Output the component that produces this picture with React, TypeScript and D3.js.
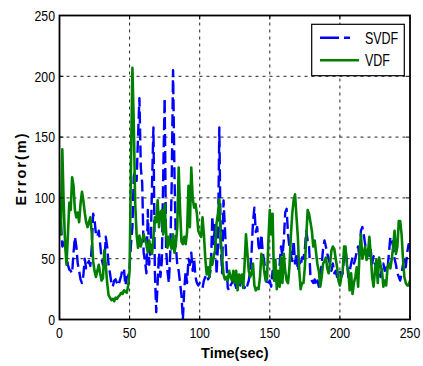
import React from "react";
import * as d3 from "d3";

const TIME: number[] = d3.range(0, 251);

const SVDF: number[] = [
  93, 80, 60, 62, 65, 52, 45, 41, 40, 38,
  55, 68, 60, 46, 40, 33, 30, 36, 50, 42,
  46, 48, 44, 60, 87, 82, 70, 68, 73, 62,
  50, 45, 46, 68, 60, 45, 38, 30, 27, 32,
  33, 30, 28, 32, 36, 42, 41, 28, 35, 35,
  43, 62, 76, 118, 122, 114, 150, 182, 125, 112,
  55, 48, 38, 90, 45, 60, 110, 158, 40, 6,
  30, 55, 35, 48, 120, 182, 60, 40, 30, 55,
  110, 205, 120, 60, 45, 40, 30, 20, 0, 25,
  40, 30, 50, 45, 55, 40, 50, 35, 30, 28,
  30, 28, 26, 32, 35, 37, 33, 35, 43, 85,
  62, 80, 37, 60, 158, 60, 38, 98, 75, 50,
  26, 24, 28, 30, 37, 30, 26, 35, 30, 28,
  33, 28, 26, 30, 28, 32, 40, 55, 80, 92,
  72, 76, 60, 56, 70, 55, 48, 37, 28, 30,
  32, 27, 40, 35, 32, 38, 40, 45, 60, 52,
  65, 88, 91, 70, 60, 54, 48, 65, 46, 55,
  40, 48, 44, 51, 50, 58, 73, 65, 60, 35,
  32, 30, 33, 28, 32, 27, 38, 45, 58, 65,
  60, 54, 50, 45, 40, 46, 38, 40, 35, 38,
  40, 35, 38, 52, 57, 48, 35, 40, 46, 51,
  46, 50, 56, 60, 51, 73, 76, 70, 62, 55,
  58, 50, 57, 46, 52, 46, 43, 38, 40, 35,
  42, 46, 40, 44, 42, 55, 68, 65, 60, 50,
  45, 38, 35, 32, 38, 45, 49, 43, 55, 62,
  58,
];

const VDF: number[] = [
  92, 70, 140, 95, 62, 45, 70, 96, 90, 117,
  110, 90, 84, 88, 80, 95, 105, 98, 88, 80,
  76, 80, 84, 71, 48, 40, 35, 40, 45, 38,
  32, 34, 57, 45, 30, 20, 18, 16, 17, 15,
  18, 17, 19, 20, 22, 21, 24, 23, 22, 28,
  40, 130, 207, 160, 95, 70, 59, 69, 60, 65,
  70, 66, 62, 55, 65, 58, 54, 68, 84, 80,
  98, 76, 88, 90, 70, 95, 72, 59, 68, 62,
  58, 70, 55, 62, 76, 125, 90, 64, 62, 68,
  62, 72, 110, 76, 125, 100, 92, 95, 87, 73,
  70, 68, 84, 70, 50, 37, 43, 35, 51, 45,
  52, 57, 79, 87, 99, 65, 51, 37, 33, 35,
  32, 40, 35, 32, 40, 30, 40, 24, 37, 30,
  37, 26, 45, 70, 55, 40, 35, 38, 46, 28,
  24, 26, 25, 35, 54, 50, 40, 32, 33, 65,
  90, 70, 87, 32, 49, 25, 40, 27, 51, 30,
  54, 40, 32, 30, 43, 68, 87, 98, 103, 85,
  68, 40, 25, 30, 30, 43, 68, 90, 87, 80,
  73, 60, 65, 55, 45, 40, 27, 35, 46, 48,
  51, 42, 38, 46, 57, 60, 58, 50, 43, 32,
  28, 35, 40, 60, 60, 45, 40, 24, 38, 21,
  30, 35, 43, 27, 54, 70, 50, 55, 60, 49,
  54, 68, 54, 35, 27, 40, 49, 30, 51, 45,
  40, 27, 32, 28, 43, 46, 42, 50, 60, 73,
  54, 60, 81, 81, 70, 50, 35, 30, 28, 28,
  32,
];

const X_TICKS: number[] = [0, 50, 100, 150, 200, 250];
const Y_TICKS: number[] = [0, 50, 100, 150, 200, 250];
const SERIES_NAMES: string[] = ["SVDF", "VDF"];
const X_LABEL = "Time(sec)";
const Y_LABEL = "Error(m)";

export default function App() {
  const W = 423;
  const H = 366;
  const L = 59.5, R = 410, T = 15.5, B = 319.5;
  const x = d3.scaleLinear().domain([0, 250]).range([L, R]);
  const y = d3.scaleLinear().domain([0, 250]).range([B, T]);
  const mk = (vals: number[]) =>
    d3.line<number>().x((_, i) => x(TIME[i])).y((d) => y(d))(vals) || "";

  const font = "'Liberation Sans', Arial, Helvetica, sans-serif";
  const blue = "#0000ff";
  const green = "#008000";

  return (
    <svg width={W} height={H} style={{ position: "absolute", left: 0, top: 0, background: "#fff" }}
      fontFamily={font}>
      <defs>
        <clipPath id="plotclip">
          <rect x={L} y={T} width={R - L} height={B - T} />
        </clipPath>
      </defs>
      <rect x={0} y={0} width={W} height={H} fill="#fff" />
      {/* grid */}
      {X_TICKS.filter((t) => t > 0 && t < 250).map((t) => (
        <line key={"gx" + t} x1={x(t)} x2={x(t)} y1={T} y2={B} stroke="#222" strokeWidth={1} strokeDasharray="3,4" />
      ))}
      {Y_TICKS.filter((t) => t > 0 && t < 250).map((t) => (
        <line key={"gy" + t} x1={L} x2={R} y1={y(t)} y2={y(t)} stroke="#222" strokeWidth={1} strokeDasharray="3,4" />
      ))}
      {/* series */}
      <g clipPath="url(#plotclip)">
        <path d={mk(SVDF)} fill="none" stroke={blue} strokeWidth={2.4} strokeDasharray="12,5" strokeLinejoin="round" />
        <path d={mk(VDF)} fill="none" stroke={green} strokeWidth={2.6} strokeLinejoin="round" />
      </g>
      {/* ticks */}
      {X_TICKS.map((t) => (
        <g key={"tx" + t}>
          <line x1={x(t)} x2={x(t)} y1={B} y2={B - 4} stroke="#000" />
          <line x1={x(t)} x2={x(t)} y1={T} y2={T + 4} stroke="#000" />
        </g>
      ))}
      {Y_TICKS.map((t) => (
        <g key={"ty" + t}>
          <line x1={L} x2={L + 4} y1={y(t)} y2={y(t)} stroke="#000" />
          <line x1={R} x2={R - 4} y1={y(t)} y2={y(t)} stroke="#000" />
        </g>
      ))}
      {/* frame */}
      <rect x={L} y={T} width={R - L} height={B - T} fill="none" stroke="#000" strokeWidth={1.8} />
      {/* tick labels */}
      {X_TICKS.map((t) => (
        <text key={"lx" + t} transform={`translate(${x(t)},${337.5}) scale(0.82,1)`} textAnchor="middle"
          fontSize={15} fill="#000">{t}</text>
      ))}
      {Y_TICKS.map((t) => (
        <text key={"ly" + t} transform={`translate(${55},${y(t) + 5.3}) scale(0.82,1)`} textAnchor="end"
          fontSize={15} fill="#000">{t}</text>
      ))}
      {/* axis labels */}
      <text x={(L + R) / 2} y={358.3} textAnchor="middle" fontSize={14.5} fontWeight="bold" fill="#000">{X_LABEL}</text>
      <text transform={`translate(26,168.5) rotate(-90)`} textAnchor="middle" fontSize={14.5} fontWeight="bold"
        letterSpacing={2} fill="#000">{Y_LABEL}</text>
      {/* legend */}
      <g>
        <rect x={311.7} y={24.3} width={92.6} height={51.4} fill="#fff" stroke="#000" strokeWidth={1.2} />
        <line x1={320} x2={350} y1={37.7} y2={37.7} stroke={blue} strokeWidth={2.4} strokeDasharray="19,5" />
        <line x1={320} x2={359} y1={60.3} y2={60.3} stroke={green} strokeWidth={2.6} />
        <text transform={`translate(365,43.5) scale(0.78,1)`} fontSize={16} fill="#000">{SERIES_NAMES[0]}</text>
        <text transform={`translate(365,66) scale(0.78,1)`} fontSize={16} fill="#000">{SERIES_NAMES[1]}</text>
      </g>
    </svg>
  );
}
